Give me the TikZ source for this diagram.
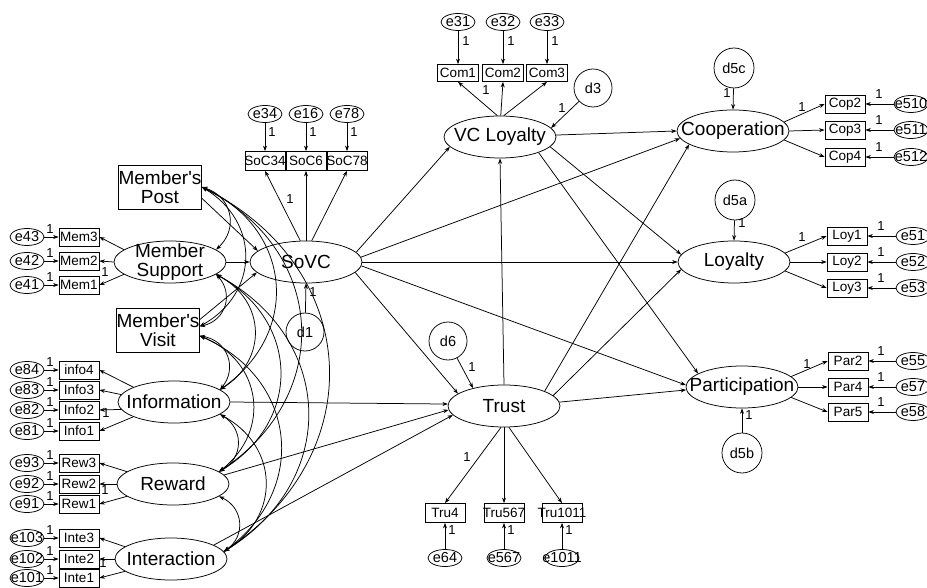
\documentclass[tikz,border=0pt]{standalone}
\usepackage{fontspec}
\setmainfont{Liberation Sans}
\usetikzlibrary{shapes.geometric,arrows.meta}
\begin{document}
\begin{tikzpicture}[x=1pt,y=-1pt,line width=0.75pt,
  >={Stealth[length=5.5pt,width=4pt]},
  lat/.style={ellipse,draw,minimum width=112pt,minimum height=42pt,inner sep=0pt,
     label={[font=\fontsize{19}{18.5}\selectfont,align=center,inner sep=0pt]center:#1}},
  ind/.style={draw,minimum width=40pt,minimum height=18pt,inner sep=0pt,
     label={[font=\fontsize{13.5}{14}\selectfont,inner sep=0pt]center:#1}},
  err/.style={ellipse,draw,minimum width=34pt,minimum height=17pt,inner sep=0pt,
     label={[font=\fontsize{14.5}{15}\selectfont,inner sep=0pt]center:#1}},
  dis/.style={circle,draw,minimum size=38pt,inner sep=0pt,font=\fontsize{14.5}{15}\selectfont},
  obs/.style={draw,minimum width=77pt,minimum height=44pt,inner sep=0pt,align=center,font=\fontsize{19}{18.5}\selectfont},
  one/.style={font=\fontsize{13}{13}\selectfont,inner sep=0pt},
  cov/.style={<->,bend left=60,looseness=1.25},
]
\useasboundingbox (0,0) rectangle (927,588);

% ---- exogenous ----
\node[obs] (post) at (160,187) {Member\textquotesingle s\\Post};
\node[obs] (vis) at (158,330) {Member\textquotesingle s\\Visit};
\node[lat={Member\\Support}] (sup) at (170,262) {};
\node[lat=Information] (inf) at (174,402) {};
\node[lat=Reward] (rew) at (173,484) {};
\node[lat=Interaction] (int) at (171,559) {};

% ---- central / outcomes ----
\node[lat=SoVC] (sovc) at (306,262) {};
\node[lat={VC Loyalty}] (vc) at (500,137) {};
\node[lat=Trust] (tru) at (504,406) {};
\node[lat=Cooperation] (coop) at (733,131) {};
\node[lat=Loyalty] (loy) at (734,262) {};
\node[lat=Participation] (par) at (742,387) {};

% ---- disturbances ----
\node[dis] (d1) at (305,332) {d1};
\node[dis] (d3) at (593,88) {d3};
\node[dis] (d6) at (448,341) {d6};
\node[dis,minimum size=40pt] (d5c) at (734,68) {d5c};
\node[dis,minimum size=40pt] (d5a) at (735,200) {d5a};
\node[dis,minimum size=40pt] (d5b) at (742,453) {d5b};

% ---- left indicators ----
\foreach \nm/\tx/\er/\yy in {mem3/Mem3/e43/237, mem2/Mem2/e42/261, mem1/Mem1/e41/285,
  inf4/info4/e84/370, inf3/Info3/e83/390, inf2/Info2/e82/410, inf1/Info1/e81/431,
  rew3/Rew3/e93/463, rew2/Rew2/e92/484, rew1/Rew1/e91/504,
  int3/Inte3/e103/538, int2/Inte2/e102/559, int1/Inte1/e101/578}{
  \node[ind=\tx] (\nm) at (79,\yy) {};
  \node[err=\er] (\er) at (27,\yy) {};
  \draw[->] (\er) -- (\nm);
  \node[one] (o\er) at (50,\yy-8) {1};
}
\draw[->] (sup.165) -- (mem3.east);
\draw[->] (sup.180) -- (mem2.east);
\draw[->] (sup.195) -- (mem1.east);
\draw[->] (inf.160) -- (inf4.east);
\draw[->] (inf.172) -- (inf3.east);
\draw[->] (inf.188) -- (inf2.east);
\draw[->] (inf.200) -- (inf1.east);
\draw[->] (rew.165) -- (rew3.east);
\draw[->] (rew.180) -- (rew2.east);
\draw[->] (rew.195) -- (rew1.east);
\draw[->] (int.165) -- (int3.east);
\draw[->] (int.180) -- (int2.east);
\draw[->] (int.195) -- (int1.east);
\node[one] (osup) at (105,272) {1};
\node[one] (oinf) at (106,413) {1};
\node[one] (orew) at (105,490) {1};
\node[one] (oint) at (103,563) {1};

% ---- SoVC indicators ----
\foreach \nm/\tx/\er/\xx in {soc34/SoC34/e34/265, soc6/SoC6/e16/306, soc78/SoC78/e78/347}{
  \node[ind=\tx,minimum height=19pt] (\nm) at (\xx,161) {};
  \node[err=\er] (\er) at (\xx,114) {};
  \draw[->] (\er) -- (\nm);
  \node[one] (o\er) at (\xx+7,132) {1};
}
\draw[->] (sovc.105) -- (soc34.south);
\draw[->] (sovc.90) -- (soc6.south);
\draw[->] (sovc.75) -- (soc78.south);
\node[one] (osovc) at (290,199) {1};

% ---- VC Loyalty indicators ----
\foreach \nm/\tx/\er/\xx in {com1/Com1/e31/458, com2/Com2/e32/503, com3/Com3/e33/547}{
  \node[ind=\tx,minimum height=17pt,minimum width=41pt] (\nm) at (\xx,73) {};
  \node[err=\er] (\er) at (\xx,22) {};
  \draw[->] (\er) -- (\nm);
  \node[one] (o\er) at (\xx+8,41) {1};
}
\draw[->] (vc.97) -- (com1.south);
\draw[->] (vc.88) -- (com2.south);
\draw[->] (vc.80) -- (com3.south);
\node[one] (ovc) at (486,90) {1};

% ---- right indicators ----
\foreach \nm/\tx/\er/\yy in {cop2/Cop2/e510/104, cop3/Cop3/e511/130, cop4/Cop4/e512/157}{
  \node[ind=\tx] (\nm) at (845,\yy) {};
  \node[err=\er] (\er) at (911,\yy) {};
  \draw[->] (\er) -- (\nm);
  \node[one] (o\er) at (879,\yy-10) {1};
}
\foreach \nm/\tx/\er/\yy in {loy1/Loy1/e51/236, loy2/Loy2/e52/262, loy3/Loy3/e53/288}{
  \node[ind=\tx] (\nm) at (847,\yy) {};
  \node[err=\er] (\er) at (913,\yy) {};
  \draw[->] (\er) -- (\nm);
  \node[one] (o\er) at (881,\yy-10) {1};
}
\foreach \nm/\tx/\er/\yy in {par2/Par2/e55/361, par4/Par4/e57/387, par5/Par5/e58/412}{
  \node[ind=\tx] (\nm) at (848,\yy) {};
  \node[err=\er] (\er) at (913,\yy) {};
  \draw[->] (\er) -- (\nm);
  \node[one] (o\er) at (881,\yy-10) {1};
}
\draw[->] (coop.10) -- (cop2.west);
\draw[->] (coop.0) -- (cop3.west);
\draw[->] (coop.350) -- (cop4.west);
\draw[->] (loy.10) -- (loy1.west);
\draw[->] (loy.0) -- (loy2.west);
\draw[->] (loy.350) -- (loy3.west);
\draw[->] (par.12) -- (par2.west);
\draw[->] (par.0) -- (par4.west);
\draw[->] (par.348) -- (par5.west);
\node[one] (ocoop) at (802,107) {1};
\node[one] (oloy) at (802,237) {1};
\node[one] (opar) at (807,364) {1};

% ---- Trust indicators ----
\foreach \nm/\tx/\er/\xx in {tru4/Tru4/e64/445, tru567/Tru567/e567/504, tru1011/Tru1011/e1011/562}{
  \node[ind=\tx,minimum height=19pt] (\nm) at (\xx,513) {};
  \node[err=\er] (\er) at (\xx,558) {};
  \draw[->] (\er) -- (\nm);
  \node[one] (o\er) at (\xx+7,530) {1};
}
\draw[->] (tru.262) -- (tru4.north);
\draw[->] (tru.270) -- (tru567.north);
\draw[->] (tru.283) -- (tru1011.north);
\node[one] (otru) at (467,457) {1};

% ---- structural paths ----
\draw[->] (sup.east) -- (sovc.west);
\draw[->] (post.345) -- (sovc.167);
\draw[->] (vis.14) -- (sovc.192);
\draw[->] (d1) -- (sovc.south);
\draw[->] (sovc.11) -- (vc.191);
\draw[->] (sovc.5) -- (coop.188);
\draw[->] (sovc.east) -- (loy.west);
\draw[->] (sovc.356) -- (par.178);
\draw[->] (sovc.348) -- (tru.165);
\draw[->] (vc.2) -- (coop.west);
\draw[->] (vc.349) -- (loy.172);
\draw[->] (vc.338) -- (par.163);
\draw[->] (tru.north) -- (vc.south);
\draw[->] (tru.20) -- (coop.197);
\draw[->] (tru.12) -- (loy.188);
\draw[->] (tru.4) -- (par.183);
\draw[->] (inf.east) -- (tru.178);
\draw[->] (rew.10) -- (tru.184);
\draw[->] (int.18) -- (tru.190);
\draw[->] (d3) -- (vc.10);
\draw[->] (d6) -- (tru.150);
\draw[->] (d5c) -- (coop.north);
\draw[->] (d5a) -- (loy.north);
\draw[->] (d5b) -- (par.south);
\node[one] (od1) at (313,292) {1};
\node[one] (od3) at (562,108) {1};
\node[one] (od6) at (472,367) {1};
\node[one] (od5c) at (727,93) {1};
\node[one] (od5a) at (742,223) {1};
\node[one] (od5b) at (749,415) {1};

% ---- covariances ----
\draw[cov] (post.east) to (sup.15);
\draw[cov] (post.east) to (vis.5);
\draw[cov] (post.east) to (inf.15);
\draw[cov] (post.east) to (rew.15);
\draw[cov] (post.east) to (int.8);
\draw[cov] (sup.345) to (vis.5);
\draw[cov] (sup.345) to (inf.15);
\draw[cov] (sup.345) to (rew.15);
\draw[cov] (sup.345) to (int.8);
\draw[cov] (vis.352) to (inf.15);
\draw[cov] (vis.352) to (rew.15);
\draw[cov] (vis.352) to (int.8);
\draw[cov] (inf.345) to (rew.15);
\draw[cov] (inf.345) to (int.8);
\draw[cov] (rew.345) to (int.8);
\end{tikzpicture}
\end{document}
